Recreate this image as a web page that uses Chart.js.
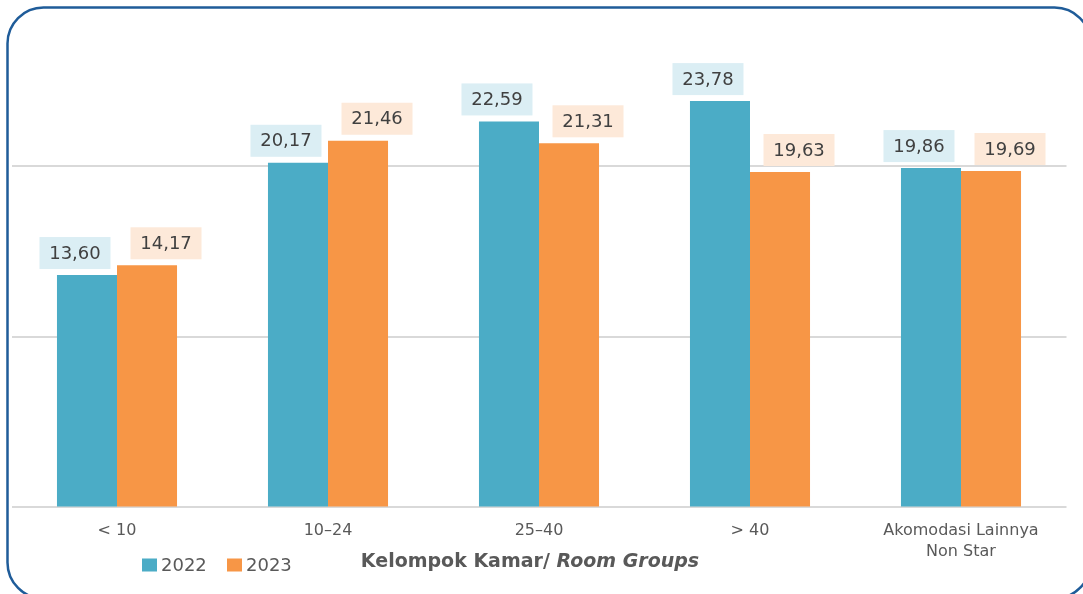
<!DOCTYPE html>
<html>
<head>
<meta charset="utf-8">
<script src="https://cdn.jsdelivr.net/npm/chart.js@4.4.1/dist/chart.umd.min.js"></script>
<style>
html,body{margin:0;padding:0;background:#fff;}
#wrap{position:relative;width:1083px;height:594px;}
</style>
</head>
<body>
<div id="wrap"><canvas id="c" width="1083" height="594"></canvas></div>
<script>
const categories = ['< 10', '10–24', '25–40', '> 40', ['Akomodasi Lainnya', 'Non Star']];
const seriesNames = ['2022', '2023'];
const values2022 = [13.60, 20.17, 22.59, 23.78, 19.86];
const values2023 = [14.17, 21.46, 21.31, 19.63, 19.69];
const axisTitleMain = 'Kelompok Kamar/ ';
const axisTitleItalic = 'Room Groups';

const barColors = ['#4bacc6', '#f79646'];
const labelFills = ['#dbeef4', '#fde9d9'];
const labelShift = [-12, 19];

const fmt = v => v.toFixed(2).replace('.', ',');

const framePlugin = {
  id: 'frame',
  beforeDraw(chart) {
    const ctx = chart.ctx;
    ctx.save();
    ctx.fillStyle = '#ffffff';
    ctx.fillRect(0, 0, chart.width, chart.height);
    ctx.beginPath();
    ctx.roundRect(7.5, 7.5, 1083, 591, 36);
    ctx.lineWidth = 2.5;
    ctx.strokeStyle = '#1f5c99';
    ctx.stroke();
    ctx.restore();
  }
};

const labelPlugin = {
  id: 'boxLabels',
  afterDatasetsDraw(chart) {
    const ctx = chart.ctx;
    ctx.save();
    ctx.font = '18px "DejaVu Sans"';
    ctx.textAlign = 'center';
    ctx.textBaseline = 'middle';
    chart.data.datasets.forEach((ds, di) => {
      const meta = chart.getDatasetMeta(di);
      meta.data.forEach((bar, i) => {
        const w = 71, h = 32;
        const cx = bar.x + labelShift[di];
        const bottom = bar.y - 6;
        ctx.fillStyle = labelFills[di];
        ctx.fillRect(cx - w / 2, bottom - h, w, h);
        ctx.fillStyle = '#404040';
        ctx.fillText(fmt(ds.data[i]), cx, bottom - h / 2 + 1);
      });
    });
    ctx.restore();
  }
};

const legendTitlePlugin = {
  id: 'legendTitle',
  afterDraw(chart) {
    const ctx = chart.ctx;
    ctx.save();
    ctx.textBaseline = 'middle';
    ctx.textAlign = 'left';
    ctx.font = '18px "DejaVu Sans"';
    const legendY = 565;
    const legendX = [142, 227];
    chart.data.datasets.forEach((ds, di) => {
      ctx.fillStyle = ds.backgroundColor;
      ctx.fillRect(legendX[di], legendY - 6.5, 15, 13);
      ctx.fillStyle = '#595959';
      ctx.fillText(ds.label, legendX[di] + 19, legendY + 1);
    });
    ctx.font = 'bold 19px "DejaVu Sans"';
    const w1 = ctx.measureText(axisTitleMain).width;
    ctx.font = 'italic bold 19px "DejaVu Sans"';
    const w2 = ctx.measureText(axisTitleItalic).width;
    const start = 530 - (w1 + w2) / 2;
    ctx.fillStyle = '#595959';
    ctx.font = 'bold 19px "DejaVu Sans"';
    ctx.fillText(axisTitleMain, start, 562);
    ctx.font = 'italic bold 19px "DejaVu Sans"';
    ctx.fillText(axisTitleItalic, start + w1, 562);
    ctx.restore();
  }
};

new Chart(document.getElementById('c'), {
  type: 'bar',
  data: {
    labels: categories,
    datasets: [
      { label: seriesNames[0], data: values2022, backgroundColor: barColors[0], categoryPercentage: 0.569, barPercentage: 1.0 },
      { label: seriesNames[1], data: values2023, backgroundColor: barColors[1], categoryPercentage: 0.569, barPercentage: 1.0 }
    ]
  },
  options: {
    responsive: false,
    animation: false,
    devicePixelRatio: 1,
    layout: { padding: { left: 11.5, right: 16.5, top: 29, bottom: 19 } },
    plugins: { legend: { display: false }, tooltip: { enabled: false } },
    scales: {
      x: {
        grid: { display: false, drawTicks: false },
        border: { display: false },
        ticks: {
          color: '#595959',
          font: { family: 'DejaVu Sans', size: 16, lineHeight: 1.3 },
          padding: 13,
          maxRotation: 0,
          autoSkip: false
        }
      },
      y: {
        min: 0,
        max: 28,
        ticks: { display: false, stepSize: 10 },
        border: { display: false },
        grid: {
          drawTicks: false,
          lineWidth: 2,
          color: c => (c.tick && c.tick.value % 10 === 0) ? '#d9d9d9' : 'rgba(0,0,0,0)'
        }
      }
    }
  },
  plugins: [framePlugin, labelPlugin, legendTitlePlugin]
});
</script>
</body>
</html>
